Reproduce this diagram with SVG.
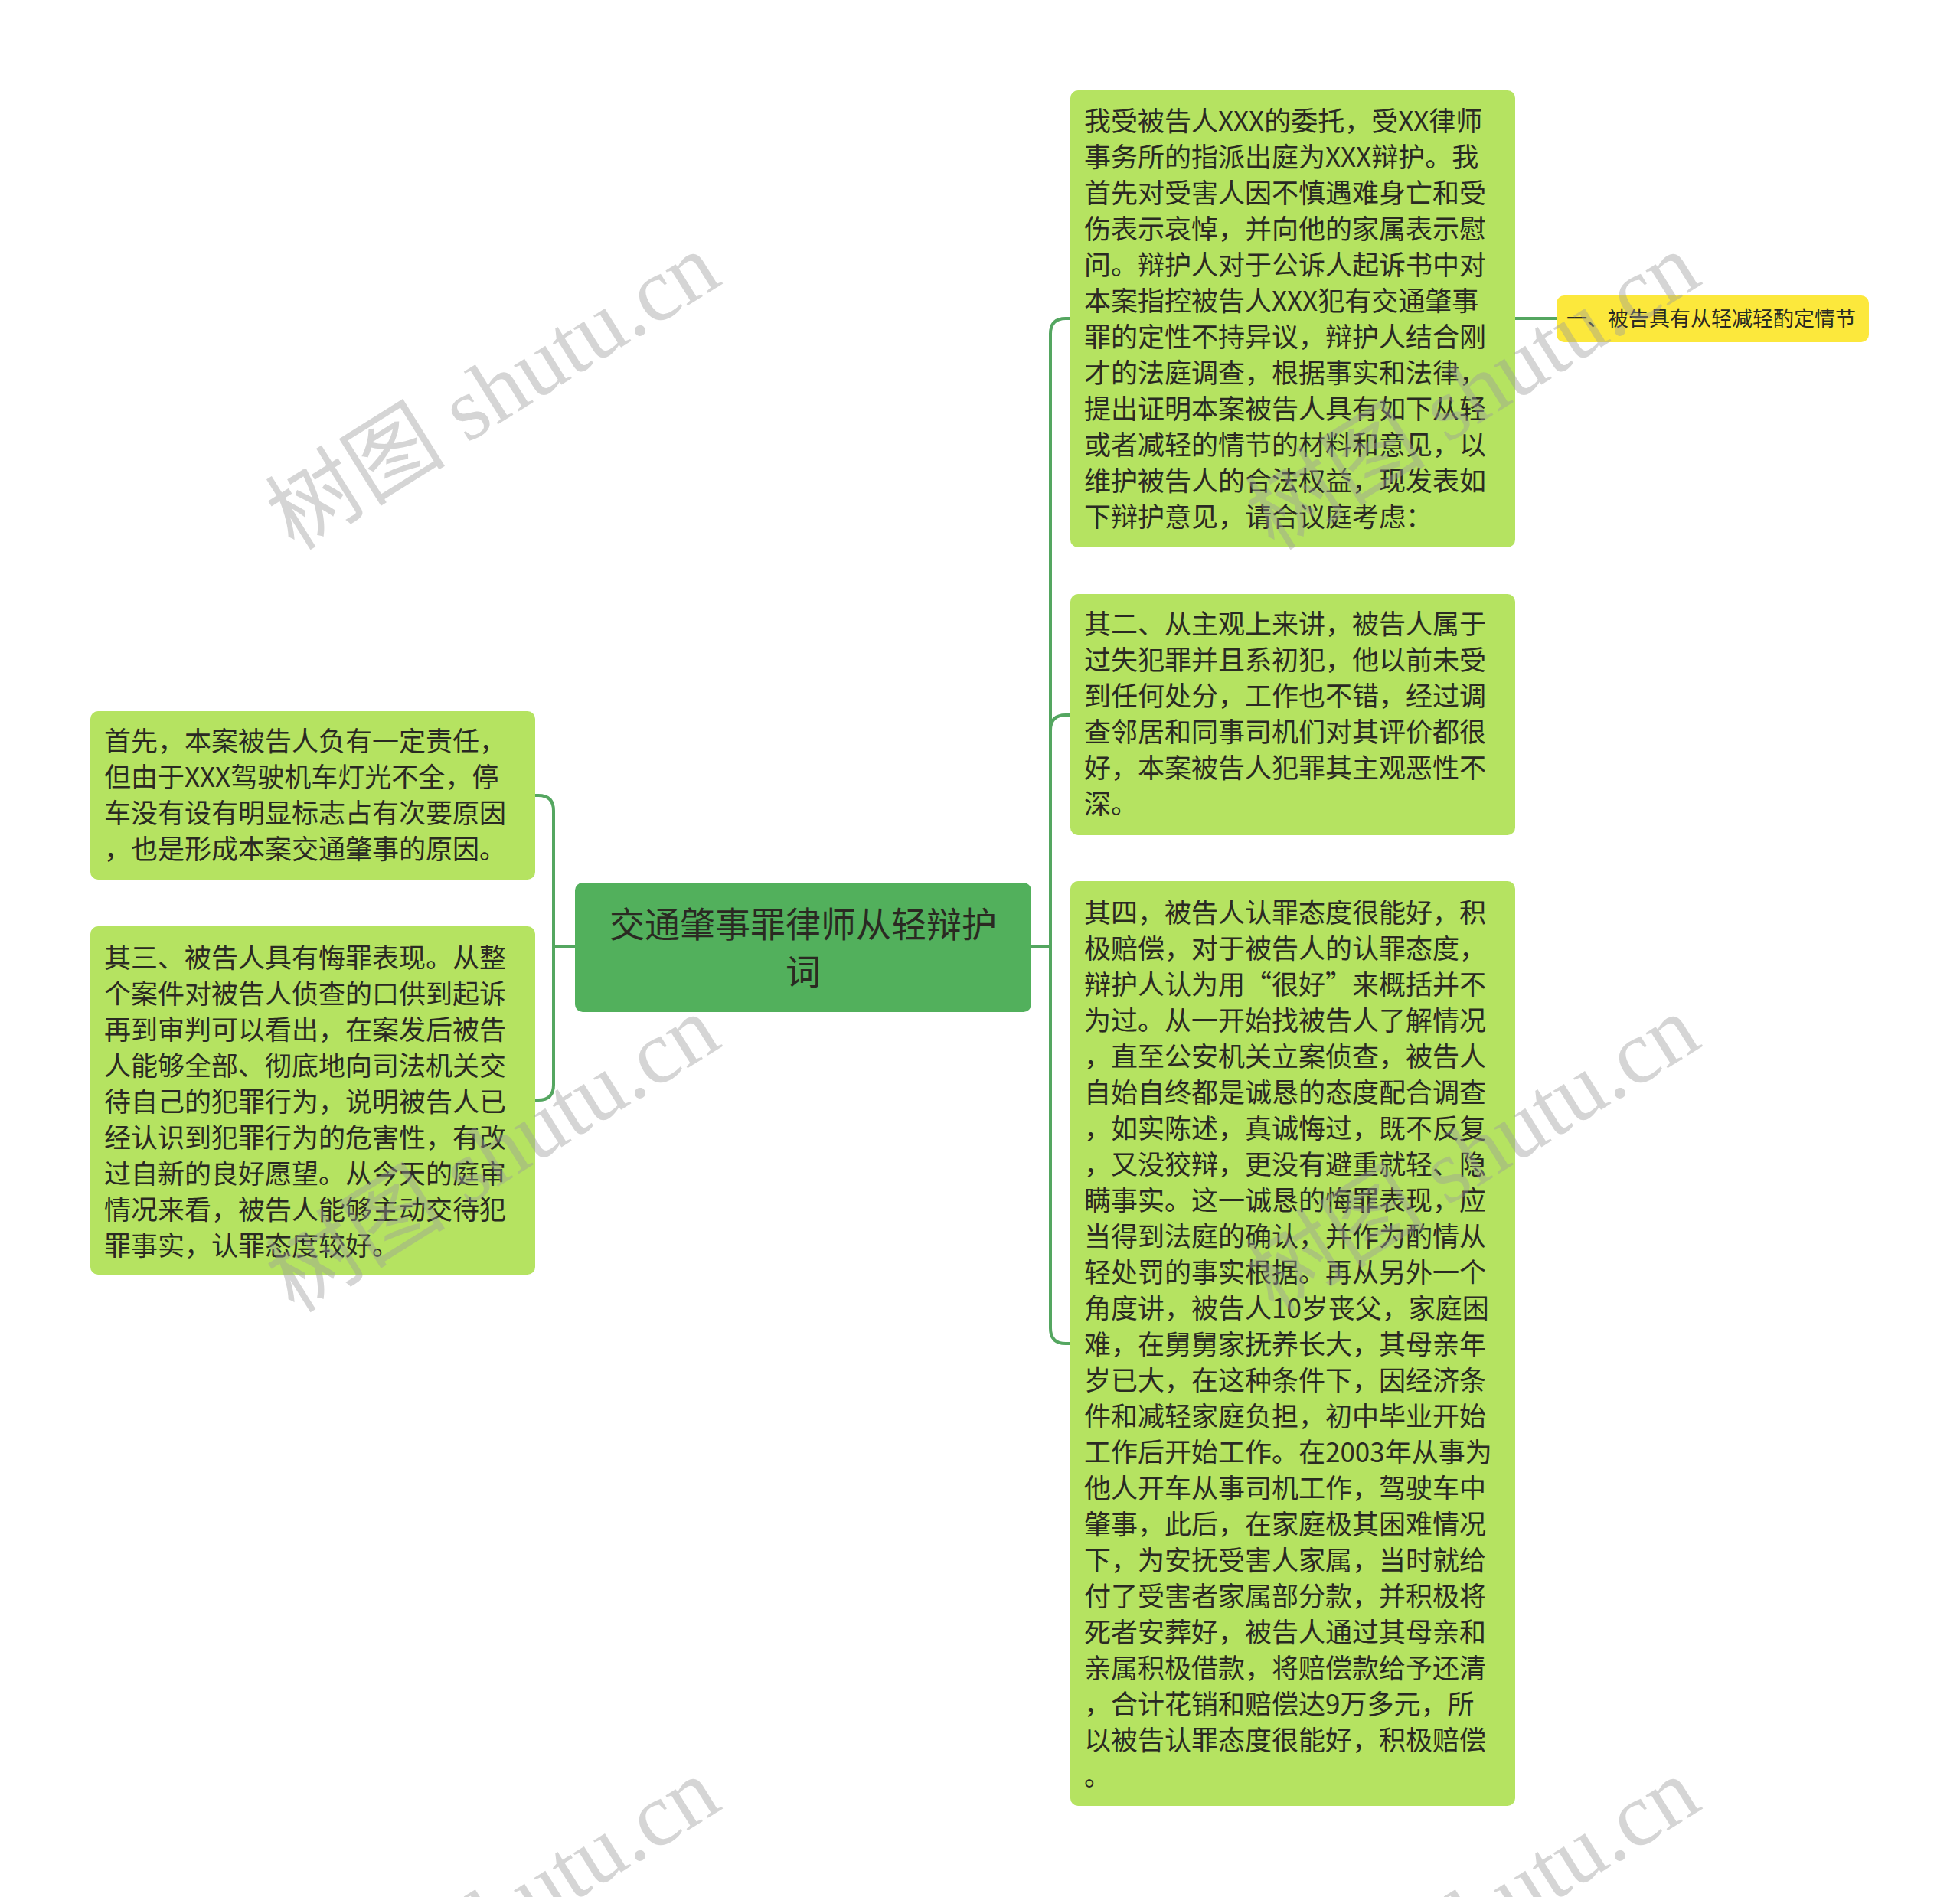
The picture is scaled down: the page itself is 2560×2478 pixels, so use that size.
<svg xmlns="http://www.w3.org/2000/svg" width="2560" height="2478" viewBox="0 0 2560 2478">
<defs>
<style>
.node{fill:#b5e361}
.root{fill:#52b05c}
.yel{fill:#fce83c}
.t{font-family:"Noto Sans CJK SC","Noto Sans",sans-serif;font-size:35px;fill:#2a2a22}
.rt{font-family:"Noto Sans CJK SC","Noto Sans",sans-serif;font-size:46px;fill:#2a2a22;text-anchor:middle}
.yt{font-family:"Noto Sans CJK SC","Noto Sans",sans-serif;font-size:27px;fill:#2a2a22}
.conn{fill:none;stroke:#54a660;stroke-width:4}
.wm{font-family:"Liberation Serif","Noto Sans CJK SC",serif;font-size:118px;fill:#9a9a9a;fill-opacity:0.42;text-anchor:middle}
</style>
</defs>
<rect width="2560" height="2478" fill="#ffffff"/>
<g id="connectors">
<path class="conn" d="M1347,1237 H1372"/>
<path class="conn" d="M1372,1237 V436 Q1372,416 1392,416 H1398"/>
<path class="conn" d="M1372,1237 V954 Q1372,934 1392,934 H1398"/>
<path class="conn" d="M1372,1237 V1735 Q1372,1755 1392,1755 H1398"/>
<path class="conn" d="M1979,416 H2033"/>
<path class="conn" d="M751,1237 H723"/>
<path class="conn" d="M723,1237 V1059 Q723,1039 703,1039 H699"/>
<path class="conn" d="M723,1237 V1417 Q723,1437 703,1437 H699"/>
</g>
<g id="root">
<rect class="root" x="751" y="1153" width="596" height="169" rx="10"/>
<text class="rt" x="1049" y="1224">交通肇事罪律师从轻辩护</text>
<text class="rt" x="1049" y="1286">词</text>
</g>
<g id="n1">
<rect class="node" x="1398" y="118" width="581" height="597" rx="10"/>
<text class="t" x="1416" y="171">
<tspan x="1416" dy="0">我受被告人XXX的委托，受XX律师</tspan>
<tspan x="1416" dy="47">事务所的指派出庭为XXX辩护。我</tspan>
<tspan x="1416" dy="47">首先对受害人因不慎遇难身亡和受</tspan>
<tspan x="1416" dy="47">伤表示哀悼，并向他的家属表示慰</tspan>
<tspan x="1416" dy="47">问。辩护人对于公诉人起诉书中对</tspan>
<tspan x="1416" dy="47">本案指控被告人XXX犯有交通肇事</tspan>
<tspan x="1416" dy="47">罪的定性不持异议，辩护人结合刚</tspan>
<tspan x="1416" dy="47">才的法庭调查，根据事实和法律，</tspan>
<tspan x="1416" dy="47">提出证明本案被告人具有如下从轻</tspan>
<tspan x="1416" dy="47">或者减轻的情节的材料和意见，以</tspan>
<tspan x="1416" dy="47">维护被告人的合法权益，现发表如</tspan>
<tspan x="1416" dy="47">下辩护意见，请合议庭考虑：</tspan>
</text>
</g>
<g id="n1a">
<rect class="yel" x="2033" y="386" width="408" height="61" rx="10"/>
<text class="yt" x="2046" y="426">一、被告具有从轻减轻酌定情节</text>
</g>
<g id="n2">
<rect class="node" x="1398" y="776" width="581" height="315" rx="10"/>
<text class="t" x="1416" y="828">
<tspan x="1416" dy="0">其二、从主观上来讲，被告人属于</tspan>
<tspan x="1416" dy="47">过失犯罪并且系初犯，他以前未受</tspan>
<tspan x="1416" dy="47">到任何处分，工作也不错，经过调</tspan>
<tspan x="1416" dy="47">查邻居和同事司机们对其评价都很</tspan>
<tspan x="1416" dy="47">好，本案被告人犯罪其主观恶性不</tspan>
<tspan x="1416" dy="47">深。</tspan>
</text>
</g>
<g id="n3">
<rect class="node" x="1398" y="1151" width="581" height="1208" rx="10"/>
<text class="t" x="1416" y="1205">
<tspan x="1416" dy="0">其四，被告人认罪态度很能好，积</tspan>
<tspan x="1416" dy="47">极赔偿，对于被告人的认罪态度，</tspan>
<tspan x="1416" dy="47">辩护人认为用“很好”来概括并不</tspan>
<tspan x="1416" dy="47">为过。从一开始找被告人了解情况</tspan>
<tspan x="1416" dy="47">，直至公安机关立案侦查，被告人</tspan>
<tspan x="1416" dy="47">自始自终都是诚恳的态度配合调查</tspan>
<tspan x="1416" dy="47">，如实陈述，真诚悔过，既不反复</tspan>
<tspan x="1416" dy="47">，又没狡辩，更没有避重就轻、隐</tspan>
<tspan x="1416" dy="47">瞒事实。这一诚恳的悔罪表现，应</tspan>
<tspan x="1416" dy="47">当得到法庭的确认，并作为酌情从</tspan>
<tspan x="1416" dy="47">轻处罚的事实根据。再从另外一个</tspan>
<tspan x="1416" dy="47">角度讲，被告人10岁丧父，家庭困</tspan>
<tspan x="1416" dy="47">难，在舅舅家抚养长大，其母亲年</tspan>
<tspan x="1416" dy="47">岁已大，在这种条件下，因经济条</tspan>
<tspan x="1416" dy="47">件和减轻家庭负担，初中毕业开始</tspan>
<tspan x="1416" dy="47">工作后开始工作。在2003年从事为</tspan>
<tspan x="1416" dy="47">他人开车从事司机工作，驾驶车中</tspan>
<tspan x="1416" dy="47">肇事，此后，在家庭极其困难情况</tspan>
<tspan x="1416" dy="47">下，为安抚受害人家属，当时就给</tspan>
<tspan x="1416" dy="47">付了受害者家属部分款，并积极将</tspan>
<tspan x="1416" dy="47">死者安葬好，被告人通过其母亲和</tspan>
<tspan x="1416" dy="47">亲属积极借款，将赔偿款给予还清</tspan>
<tspan x="1416" dy="47">，合计花销和赔偿达9万多元，所</tspan>
<tspan x="1416" dy="47">以被告认罪态度很能好，积极赔偿</tspan>
<tspan x="1416" dy="47">。</tspan>
</text>
</g>
<g id="n4">
<rect class="node" x="118" y="929" width="581" height="220" rx="10"/>
<text class="t" x="136" y="981">
<tspan x="136" dy="0">首先，本案被告人负有一定责任，</tspan>
<tspan x="136" dy="47">但由于XXX驾驶机车灯光不全，停</tspan>
<tspan x="136" dy="47">车没有设有明显标志占有次要原因</tspan>
<tspan x="136" dy="47">，也是形成本案交通肇事的原因。</tspan>
</text>
</g>
<g id="n5">
<rect class="node" x="118" y="1210" width="581" height="455" rx="10"/>
<text class="t" x="136" y="1264">
<tspan x="136" dy="0">其三、被告人具有悔罪表现。从整</tspan>
<tspan x="136" dy="47">个案件对被告人侦查的口供到起诉</tspan>
<tspan x="136" dy="47">再到审判可以看出，在案发后被告</tspan>
<tspan x="136" dy="47">人能够全部、彻底地向司法机关交</tspan>
<tspan x="136" dy="47">待自己的犯罪行为，说明被告人已</tspan>
<tspan x="136" dy="47">经认识到犯罪行为的危害性，有改</tspan>
<tspan x="136" dy="47">过自新的良好愿望。从今天的庭审</tspan>
<tspan x="136" dy="47">情况来看，被告人能够主动交待犯</tspan>
<tspan x="136" dy="47">罪事实，认罪态度较好。</tspan>
</text>
</g>
<g id="watermarks">
<text class="wm" transform="translate(665,545) rotate(-32)">树图 shutu.cn</text>
<text class="wm" transform="translate(665,1541) rotate(-32)">树图 shutu.cn</text>
<text class="wm" transform="translate(665,2537) rotate(-32)">树图 shutu.cn</text>
<text class="wm" transform="translate(1945,545) rotate(-32)">树图 shutu.cn</text>
<text class="wm" transform="translate(1945,1541) rotate(-32)">树图 shutu.cn</text>
<text class="wm" transform="translate(1945,2537) rotate(-32)">树图 shutu.cn</text>
</g>
</svg>
